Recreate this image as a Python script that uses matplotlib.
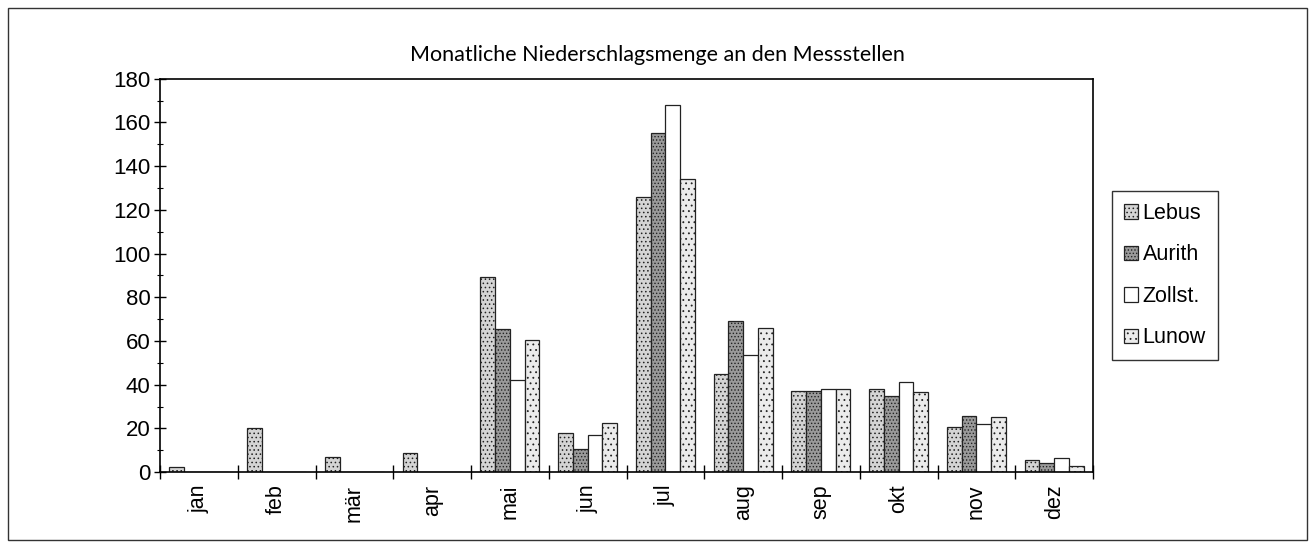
import numpy as np
import matplotlib
matplotlib.use("Agg")
import matplotlib.pyplot as plt
from matplotlib.patches import Rectangle

months = ["jan", "feb", "mär", "apr", "mai", "jun", "jul", "aug", "sep", "okt", "nov", "dez"]
lebus = [2.5, 20, 7, 8.5, 89.5, 18, 126, 45, 37, 38, 20.5, 5.5]
aurith = [0, 0, 0, 0, 65.5, 10.5, 155, 69, 37, 35, 25.5, 4]
zollst = [0, 0, 0, 0, 42, 17, 168, 53.5, 38, 41, 22, 6.5]
lunow = [0, 0, 0, 0, 60.5, 22.5, 134, 66, 38, 36.5, 25, 3]
stations = ["Lebus", "Aurith", "Zollst.", "Lunow"]

plt.rcParams['font.family'] = ['Liberation Sans', 'DejaVu Sans']
plt.rcParams['hatch.linewidth'] = 0.6

fig = plt.figure(figsize=(13.15, 5.47), dpi=100)
ax = fig.add_axes([0.1217, 0.137, 0.7095, 0.719])

x = np.arange(len(months))
w = 0.19
styles = [("#d4d4d4", "...."), ("#9a9a9a", "....."), ("white", None), ("#ebebeb", "...")]
series = [lebus, aurith, zollst, lunow]
for i, (vals, (fc, hatch)) in enumerate(zip(series, styles)):
    ax.bar(x + (i - 1.5) * w + 0.5, vals, w, color=fc, edgecolor="#222222",
           linewidth=0.9, hatch=hatch, label=stations[i])

ax.set_xlim(0, 12)
ax.set_ylim(0, 180)
ax.set_yticks(range(0, 181, 20))
ax.set_yticklabels([str(v) for v in range(0, 181, 20)], fontsize=16)
ax.set_yticks(range(10, 180, 20), minor=True)
ax.set_xticks(range(0, 13))
ax.set_xticklabels([])
ax.set_xticks(x + 0.5, minor=True)
ax.set_xticklabels(months, minor=True, rotation=90, fontsize=15.5)
ax.tick_params(axis="x", which="minor", length=0, pad=9)
ax.tick_params(axis="x", which="major", direction="inout", length=10, width=1)
ax.tick_params(axis="y", which="major", direction="inout", length=8, width=1, pad=3)
ax.tick_params(axis="y", which="minor", direction="inout", length=4, width=0.8)
for s in ax.spines.values():
    s.set_linewidth(1.2)

fig.text(0.5, 0.9, "Monatliche Niederschlagsmenge an den Messstellen",
         ha="center", va="center", fontsize=15.5, family=["Lato", "DejaVu Sans"])

leg = fig.legend(loc="center left", bbox_to_anchor=(0.846, 0.496), fontsize=15.5,
                 frameon=True, fancybox=False, edgecolor="black", handlelength=0.65,
                 handleheight=0.65, handletextpad=0.2, labelspacing=0.95, borderpad=0.55,
                 borderaxespad=0)
leg.get_frame().set_linewidth(1.0)

fig.patches.append(Rectangle((0.006, 0.013), 0.988, 0.973, transform=fig.transFigure,
                             fill=False, edgecolor="#333333", linewidth=1.0))

fig.savefig("out.png", dpi=100)
